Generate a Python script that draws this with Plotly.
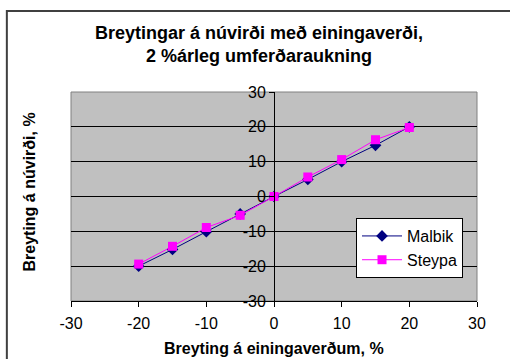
import plotly.graph_objects as go

# Percentage change in unit price (x) and resulting change in present value (y)
breyting_einingaverd = [-20, -15, -10, -5, 0, 5, 10, 15, 20]
malbik = [-20.0, -15.2, -10.1, -5.0, 0.0, 4.9, 10.0, 14.7, 20.0]
steypa = [-19.4, -14.3, -8.9, -5.4, 0.0, 5.6, 10.6, 16.3, 19.8]
axis_ticks = [-30, -20, -10, 0, 10, 20, 30]
axis_tick_text = ["-30", "-20", "-10", "0", "10", "20", "30"]

FONT = "Liberation Sans, Arial, sans-serif"

fig = go.Figure()
fig.add_trace(go.Scatter(
    x=breyting_einingaverd, y=malbik, name="Malbik", mode="lines+markers",
    line=dict(color="#000080", width=1),
    marker=dict(symbol="diamond", size=9, color="#000080"),
))
fig.add_trace(go.Scatter(
    x=breyting_einingaverd, y=steypa, name="Steypa", mode="lines+markers",
    line=dict(color="#FF00FF", width=1),
    marker=dict(symbol="square", size=9, color="#FF00FF"),
))

fig.update_layout(
    width=510, height=359,
    margin=dict(l=71, r=33, t=92, b=58),
    paper_bgcolor="white",
    plot_bgcolor="#C0C0C0",
    font=dict(family=FONT, color="black", size=16),
    showlegend=True,
    legend=dict(
        x=0.702, y=0.397, xanchor="left", yanchor="top",
        bgcolor="white", bordercolor="black", borderwidth=1,
        font=dict(size=16), tracegroupgap=2, itemwidth=40,
    ),
    xaxis=dict(
        range=[-30, 30], tickvals=axis_ticks, ticktext=axis_tick_text,
        showgrid=False, zeroline=False,
        showline=True, linecolor="black", linewidth=1,
        ticks="outside", ticklen=5, tickcolor="black",
        ticklabelstandoff=3, tickfont=dict(size=16),
    ),
    yaxis=dict(
        range=[-30, 30], tickvals=axis_ticks, ticktext=axis_tick_text,
        showgrid=True, gridcolor="black", gridwidth=1,
        zeroline=True, zerolinecolor="black", zerolinewidth=1,
        anchor="free", position=0.5,
        showline=True, linecolor="black", linewidth=1,
        ticks="outside", ticklen=5, tickcolor="black",
        tickfont=dict(size=16),
    ),
    shapes=[
        # plot area frame
        dict(type="rect", xref="x domain", yref="y domain", x0=0, x1=1, y0=0, y1=1,
             line=dict(color="#808080", width=1), layer="below"),
        # chart area frame
        dict(type="rect", xref="paper", yref="paper", x0=-0.158, x1=1.1, y0=-0.32, y1=1.388,
             line=dict(color="#404040", width=2), fillcolor="rgba(0,0,0,0)", layer="below"),
    ],
    annotations=[
        dict(text="<b>Breytingar á núvirði með einingaverði,<br>2 %árleg umferðaraukning</b>",
             xref="paper", yref="paper", x=0.463, y=1.229, xanchor="center", yanchor="middle",
             showarrow=False, font=dict(size=18)),
        dict(text="<b>Breyting á einingaverðum, %</b>",
             xref="paper", yref="paper", x=0.5, y=-0.225, xanchor="center", yanchor="middle",
             showarrow=False, font=dict(size=16)),
        dict(text="<b>Breyting á núvirði, %</b>",
             xref="paper", yref="paper", x=-0.103, y=0.52, xanchor="center", yanchor="middle",
             textangle=-90, showarrow=False, font=dict(size=16)),
    ],
)

fig.write_html("out.html")
